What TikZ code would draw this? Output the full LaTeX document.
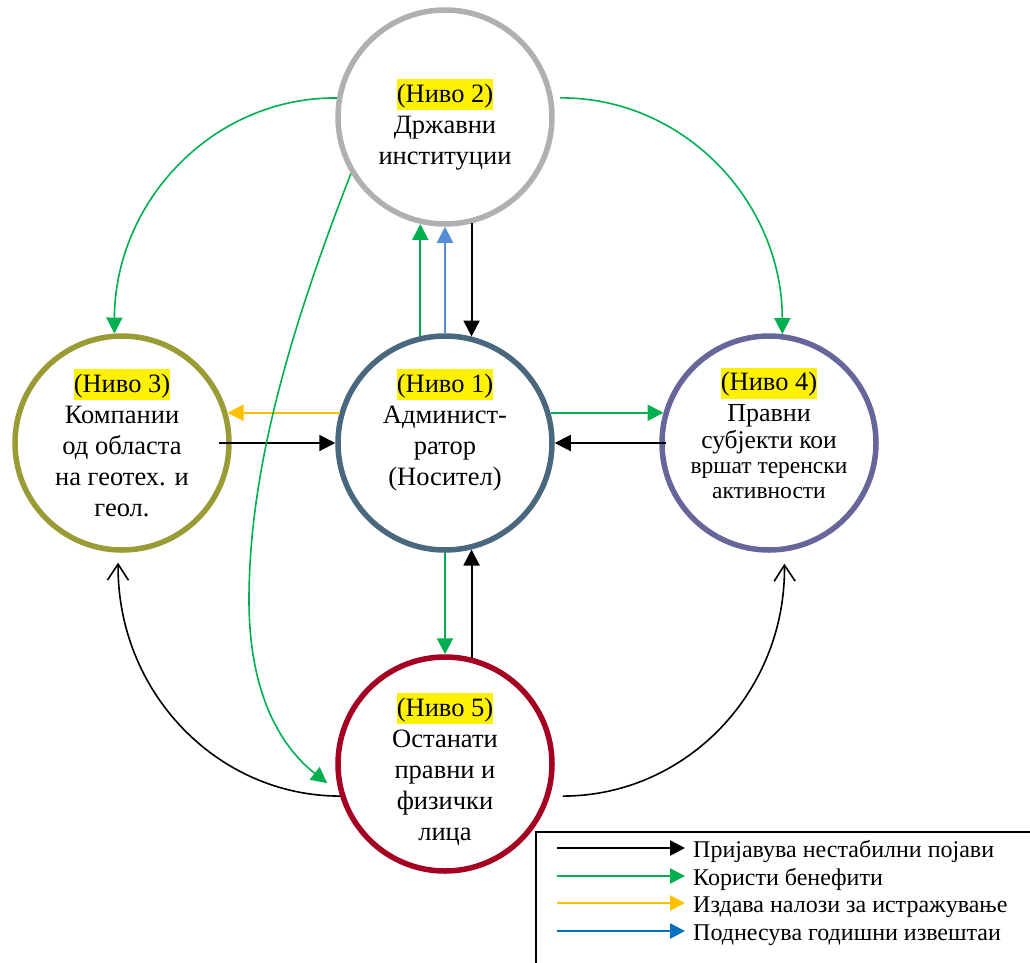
\documentclass[tikz,border=0pt]{standalone}
\usepackage{fontspec}
\setmainfont{Liberation Serif}
\usetikzlibrary{arrows.meta}
\definecolor{cTwo}{HTML}{B0B0B0}
\definecolor{cOne}{HTML}{4A687D}
\definecolor{cThree}{HTML}{9B9B36}
\definecolor{cFour}{HTML}{66669A}
\definecolor{cFive}{HTML}{A50021}
\definecolor{cGreen}{HTML}{00B050}
\definecolor{cYellow}{HTML}{FFC000}
\definecolor{cBlueL}{HTML}{558ED5}
\definecolor{cBlue}{HTML}{0070C0}
\newcommand\hlniv[1]{{\setlength{\fboxsep}{0pt}\colorbox{yellow}{\rule[-8pt]{0pt}{31pt}#1}}}
\begin{document}
\begin{tikzpicture}[x=1pt,y=-1pt,
  lvl/.style={circle, draw, line width=5.5pt, minimum size=214pt, inner sep=0pt},
  txt/.style={align=center, font=\fontsize{26.5}{31}\selectfont, anchor=base, inner sep=0pt},
  sarrow/.style={line width=2pt, -{Triangle[length=16pt,width=16pt]}},
  carrow/.style={line width=1.6pt, -{Triangle[length=16pt,width=16pt]}},
  barrow/.style={line width=1.6pt, -{Straight Barb[length=16pt,width=21pt,line width=1.6pt]}},
  larrow/.style={line width=2.5pt, -{Triangle[length=15pt,width=15pt]}},
  legtxt/.style={anchor=base west, font=\fontsize{24}{27}\selectfont, inner sep=0pt}]
\useasboundingbox (0,0) rectangle (1030,962);
\clip (0,0) rectangle (1030,962);
% circles
\node[lvl, draw=cTwo] (n2) at (445,117) {};
\node[lvl, draw=cOne] (n1) at (445,443) {};
\node[lvl, draw=cThree] (n3) at (122,443) {};
\node[lvl, draw=cFour] (n4) at (769,443) {};
\node[lvl, draw=cFive] (n5) at (445,764) {};
% texts (base = baseline of the last line)
\node[txt] (t2) at (445,164) {\hlniv{(Ниво 2)}\\Државни\\институции};
\node[txt] (t1) at (445,485) {\hlniv{(Ниво 1)}\\Админист-\\ратор\\(Носител)};
\node[txt] (t3) at (122,516) {\hlniv{(Ниво 3)}\\Компании\\од областа\\на геотех. и\\геол.};
\node[txt, font=\fontsize{23.5}{25}\selectfont] (t4) at (769,498) {{\fontsize{26.5}{31}\selectfont\hlniv{(Ниво 4)}}\\[4pt]{\fontsize{26}{28}\selectfont Правни}\\[2pt]{\fontsize{25.5}{28}\selectfont субјекти кои}\\вршат теренски\\активности};
\node[txt] (t5) at (445,840) {\hlniv{(Ниво 5)}\\Останати\\правни и\\физички\\лица};
% straight arrows
\draw[sarrow, cGreen] (n1.103) -- (n2.257);
\draw[sarrow, cBlueL] (n1.north) -- (n2.south);
\draw[sarrow, black] (n2.284) -- (n1.76);
\draw[sarrow, cYellow] (n1.164) -- (n3.16);
\draw[sarrow, black, shorten <=-13pt] (n3.east) -- (n1.west);
\draw[sarrow, cGreen] (n1.16) -- (n4.164);
\draw[sarrow, black, shorten <=-7pt] (n4.west) -- (n1.east);
\draw[sarrow, cGreen] (n1.south) -- (n5.north);
\draw[sarrow, black] (n5.76) -- (n1.-76);
% curved arrows
\draw[carrow, cGreen] (n2.170) .. controls (213,97) and (115,201) .. (n3.94);
\draw[carrow, cGreen, shorten <=7pt] (n2.10) .. controls (683,97) and (782,201) .. (n4.83);
\draw[carrow, cGreen, shorten >=15pt] (n2.211) .. controls (290,330) and (249,470) .. (249,600) .. controls (249,700) and (285,750) .. (n5.195);
\draw[barrow, black, shorten >=10pt] (n5.197) .. controls (217,796) and (117,692) .. (n3.268);
\draw[barrow, black, shorten <=13pt, shorten >=12pt] (n5.343) .. controls (686,796) and (786,692) .. (n4.278);
% legend
\node[draw, line width=1.5pt, minimum width=520pt, minimum height=160pt, anchor=north west, inner sep=0pt] (leg) at (535,831) {};
\node[legtxt] (l1) at (693,857) {Пријавува нестабилни појави};
\node[legtxt] (l2) at (693,885) {Користи бенефити};
\node[legtxt] (l3) at (693,912) {Издава налози за истражување};
\node[legtxt] (l4) at (693,940) {Поднесува годишни извештаи};
\coordinate (a1) at (557,848);
\coordinate (a2) at (557,876);
\coordinate (a3) at (557,903);
\coordinate (a4) at (557,931);
\draw[larrow, black, shorten >=8pt] (a1) -- (a1 -| l1.west);
\draw[larrow, cGreen, shorten >=8pt] (a2) -- (a2 -| l2.west);
\draw[larrow, cYellow, shorten >=8pt] (a3) -- (a3 -| l3.west);
\draw[larrow, cBlue, shorten >=8pt] (a4) -- (a4 -| l4.west);
\end{tikzpicture}
\end{document}
